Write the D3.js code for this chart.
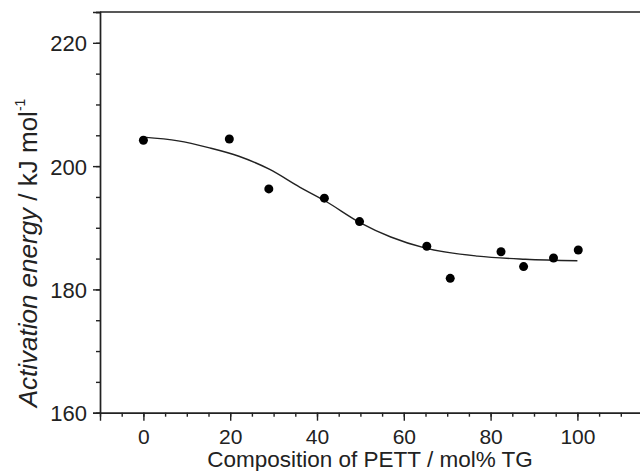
<!DOCTYPE html>
<html>
<head>
<meta charset="utf-8">
<script src="https://cdn.jsdelivr.net/npm/d3@7"></script>
<style>
    body { margin: 0; background: #fff; }
    svg { display: block; font-family: "Liberation Sans", Arial, sans-serif; }
</style>
</head>
<body>
<svg id="chart" width="640" height="471"></svg>
<script>
// measured points: composition (mol% TG) vs activation energy (kJ/mol)
const composition = [0, 19.8, 28.9, 41.7, 49.8, 65.3, 70.7, 82.4, 87.6, 94.5, 100.2]
const energy = [204.2, 204.4, 196.3, 194.8, 191.0, 187.0, 181.8, 186.1, 183.7, 185.1, 186.4]

// fitted curve
const fitX = [0, 8, 15, 22, 29, 36, 42, 50, 57, 65, 77, 88, 100]
const fitY = [204.7, 204.1, 203.0, 201.6, 199.5, 196.6, 194.3, 190.8, 188.5, 186.7, 185.4, 184.9, 184.65]

const xTicks = [0, 20, 40, 60, 80, 100]
const yTicks = [160, 180, 200, 220]

const svg = d3.select("#chart")

const plotLeft = 100
const plotTop = 12
const plotBottom = 412.7
const plotRight = 642.5
const ink = "#222"

const xScale = d3.scaleLinear()
    .domain([-10, 115])
    .range([plotLeft, plotRight])
const yScale = d3.scaleLinear()
    .domain([160, 225])
    .range([plotBottom, plotTop])

// minor ticks first, then majors with labels
svg.append("g")
    .attr("transform", `translate(0,${plotBottom})`)
    .call(d3.axisBottom(xScale).tickValues(d3.range(-5, 116, 5)).tickSize(4).tickFormat(""))
svg.append("g")
    .attr("class", "x-major")
    .attr("transform", `translate(0,${plotBottom})`)
    .call(d3.axisBottom(xScale).tickValues(xTicks).tickSize(8).tickPadding(9).tickFormat(d3.format("d")))

svg.append("g")
    .attr("transform", `translate(${plotLeft},0)`)
    .call(d3.axisLeft(yScale).tickValues(d3.range(165, 226, 5)).tickSize(4).tickFormat(""))
svg.append("g")
    .attr("class", "y-major")
    .attr("transform", `translate(${plotLeft},0)`)
    .call(d3.axisLeft(yScale).tickValues(yTicks).tickSize(7).tickPadding(6).tickFormat(d3.format("d")))

svg.selectAll(".domain, .tick line")
    .attr("stroke", ink)
    .attr("stroke-width", 1.4)
svg.selectAll(".tick text")
    .attr("fill", ink)
    .attr("font-size", 21)
    .attr("font-family", "Liberation Sans, Arial, sans-serif")
svg.selectAll(".x-major .tick text")
    .attr("dy", "0.68em")
svg.selectAll(".y-major .tick text")
    .attr("font-size", 22)
    .attr("dy", "0.36em")

// top and right frame
svg.append("path")
    .attr("d", `M${plotLeft},${plotTop}H${plotRight}V${plotBottom}`)
    .attr("fill", "none")
    .attr("stroke", ink)
    .attr("stroke-width", 1.4)

// fitted curve
const line = d3.line()
    .x((d, i) => xScale(fitX[i]))
    .y((d) => yScale(d))
    .curve(d3.curveMonotoneX)
svg.append("path")
    .datum(fitY)
    .attr("d", line)
    .attr("fill", "none")
    .attr("stroke", ink)
    .attr("stroke-width", 1.4)

svg.append("g")
    .selectAll("circle")
    .data(energy)
    .enter()
    .append("circle")
    .attr("cx", (d, i) => xScale(composition[i]))
    .attr("cy", (d) => yScale(d))
    .attr("r", 4.5)
    .attr("fill", "#000")

// axis titles
svg.append("text")
    .attr("x", (plotLeft + 640) / 2)
    .attr("y", 466.5)
    .attr("text-anchor", "middle")
    .attr("font-size", 22.5)
    .attr("fill", ink)
    .text("Composition of PETT / mol% TG")

const yTitle = svg.append("text")
    .attr("transform", "translate(37,253) rotate(-90)")
    .attr("text-anchor", "middle")
    .attr("font-size", 26)
    .attr("fill", ink)
yTitle.append("tspan")
    .attr("font-style", "italic")
    .text("Activation energy")
yTitle.append("tspan")
    .text(" / kJ mol")
yTitle.append("tspan")
    .attr("font-size", 14)
    .attr("dy", -12)
    .text("-1")
</script>
</body>
</html>
